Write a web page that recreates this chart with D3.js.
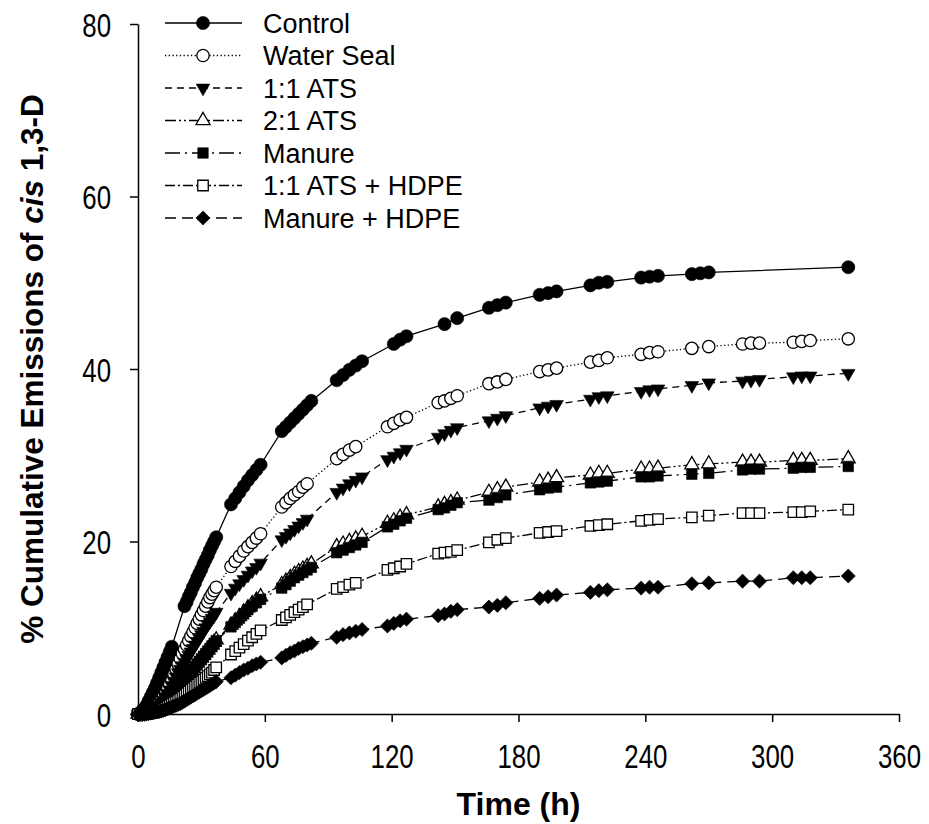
<!DOCTYPE html>
<html><head><meta charset="utf-8">
<script src="https://cdn.jsdelivr.net/npm/d3@7"></script>
<style>body{margin:0;background:#fff;} svg{display:block;}</style>
</head><body>
<svg id="chart" width="929" height="824"></svg>
<script>
// ---------- DATA ----------
const hours = [0,1,2,3,4,5,6,7,8,9,10,11,12,13,14,15,16,17,18,19,20,21,22,23,24,25,26,27,28,29,30,31,32,33,34,35,36,37,
  44,46,48,50,52,54,56,58,
  68,70,72,74,76,78,80,82,
  94,97,100,103,106,
  118,121,124,127,
  142,145,148,151,
  166,170,174, 190,194,198, 214,218,222, 238,242,246, 262,266,270, 286,290,294, 310,314,318,
  336];

const seriesNames = ["Control","Water Seal","1:1 ATS","2:1 ATS","Manure","1:1 ATS + HDPE","Manure + HDPE"];

const control = [0,0.1,0.3,0.6,1.0,1.5,2.0,2.5,3.0,3.6,4.2,4.8,5.4,6.0,6.6,7.2,7.8,
  null,null,null,null,null,
  12.5,13.0,13.6,14.1,14.7,15.2,15.8,16.3,16.8,17.4,17.9,18.4,19.0,19.5,20.0,20.5,
  24.3,25.0,25.7,26.4,27.1,27.7,28.3,28.9,
  32.8,33.3,33.8,34.3,34.8,35.3,35.8,36.3,
  38.7,39.3,39.9,40.4,40.9,
  null,42.9,43.4,43.8,
  null,45.2,null,45.9,
  47.1,47.4,47.7, 48.6,48.8,49.0, 49.7,50.0,50.1, 50.6,50.7,50.8, 51.0,51.1,51.2,
  null,null,null, null,null,null,
  51.8];

const waterSeal = [0,0,0.05,0.1,0.2,0.3,0.45,0.6,0.8,1.0,1.3,1.6,2.0,2.4,2.9,3.4,3.9,4.6,5.2,5.8,6.4,7.0,7.5,8.0,8.5,9.0,9.5,10.0,10.5,11.0,11.5,12.0,12.5,13.0,13.5,13.9,14.3,14.7,
  17.1,17.7,18.3,18.9,19.4,19.9,20.4,20.9,
  24.0,24.5,25.0,25.4,25.8,26.3,26.7,null,
  29.6,30.1,30.6,31.0,null,
  33.3,33.7,34.1,34.4,
  36.1,36.3,36.6,36.9,
  38.3,38.5,38.8, 39.7,39.9,40.1, 40.8,41.0,41.3, 41.7,41.9,42.0, 42.4,null,42.6, 42.9,43.0,43.0, 43.1,43.2,43.3,
  43.5];

const ats11 = [0,0,0,0.05,0.1,0.2,0.3,0.45,0.6,0.8,1.0,1.3,1.6,2.0,2.4,2.8,3.3,3.8,4.3,4.8,5.2,5.6,6.0,6.4,6.8,7.2,7.6,8.0,8.4,8.8,9.2,9.6,10.0,10.4,10.7,11.1,11.4,11.8,
  14.0,14.6,15.1,15.6,16.1,16.6,17.0,17.5,
  20.2,20.6,21.0,21.4,21.8,22.2,22.6,null,
  25.7,26.2,26.7,27.1,27.5,
  29.5,29.9,30.3,30.7,
  32.1,32.5,32.9,33.2,
  34.0,34.3,34.6, 35.5,35.7,35.9, 36.5,36.8,36.9, 37.4,37.6,37.7, 38.1,null,38.4, 38.6,38.7,38.8, 39.1,39.2,39.2,
  39.5];

const ats21 = [0,0,0,0,0.05,0.1,0.2,0.3,0.4,0.55,0.7,0.9,1.1,1.4,1.7,2.0,2.3,2.6,2.9,3.2,3.5,3.8,4.1,4.4,4.7,5.0,5.3,5.6,5.9,6.2,6.5,6.8,7.1,7.4,7.7,8.0,8.3,8.6,
  10.3,10.8,11.3,11.8,12.3,12.8,13.2,13.6,
  15.0,15.4,15.8,16.2,16.5,16.8,17.1,17.4,
  19.4,19.7,20.0,20.3,20.6,
  22.1,22.4,22.8,23.1,
  24.0,24.3,24.5,24.8,
  25.7,26.0,26.3, 26.9,27.1,27.4, 27.7,27.9,27.9, 28.4,28.4,28.5, 28.9,null,29.0, 29.2,29.2,29.2, 29.4,29.4,29.4,
  29.6];

const manure = [0,0,0,0,0.05,0.1,0.2,0.3,0.4,0.5,0.65,0.85,1.05,1.3,1.6,1.9,2.2,2.5,2.8,3.1,3.4,3.7,4.0,4.3,4.6,4.9,5.2,5.5,5.8,6.1,6.4,6.7,7.0,7.3,7.6,7.9,8.2,8.5,
  10.1,10.6,11.1,11.6,12.1,12.5,12.9,13.3,
  14.6,15.0,15.4,15.8,16.1,16.4,16.7,17.0,
  18.7,19.0,19.3,19.6,19.9,
  21.7,22.0,22.4,22.7,
  23.7,23.9,24.2,24.5,
  24.8,25.1,25.4, 26.0,26.2,26.3, 26.8,26.9,27.0, 27.5,27.5,27.6, 27.8,null,27.9, 28.3,28.4,28.4, 28.5,28.6,28.6,
  28.7];

const ats11Hdpe = [0,0,0,0,0,0.05,0.1,0.15,0.2,0.3,0.4,0.5,0.6,0.7,0.85,1.0,1.15,1.3,1.45,1.6,1.8,2.0,2.2,2.4,2.6,2.8,3.0,3.2,3.4,3.6,3.8,4.0,4.2,4.4,4.6,4.8,5.1,5.4,
  6.9,7.3,7.7,8.1,8.5,8.9,9.3,9.7,
  10.9,11.2,11.5,11.8,12.1,12.4,12.7,null,
  14.5,14.7,15.0,15.2,null,
  16.7,16.9,17.1,17.4,
  18.6,18.7,18.8,19.0,
  19.9,20.2,20.4, 21.0,21.1,21.2, 21.8,21.9,22.0, 22.4,22.5,22.6, 22.8,null,23.0, 23.3,23.3,23.3, 23.4,23.4,23.5,
  23.7];

const manureHdpe = [0,0,0,0,0,0.05,0.1,0.15,0.2,0.25,0.3,0.35,0.4,0.5,0.6,0.7,0.8,0.9,1.0,1.1,1.2,1.35,1.5,1.65,1.8,1.95,2.1,2.25,2.4,2.55,2.7,2.85,3.0,3.15,3.3,3.45,3.6,3.75,
  4.2,4.5,4.8,5.1,5.3,5.6,5.8,6.0,
  6.5,6.8,7.1,7.3,7.6,7.8,8.0,8.2,
  8.9,9.2,9.4,9.6,9.8,
  10.2,10.5,10.8,11.0,
  11.4,11.6,11.9,12.1,
  12.4,12.6,12.9, 13.4,13.6,13.8, 14.1,14.3,14.4, 14.6,14.7,14.7, 15.1,null,15.2, 15.4,null,15.4, 15.8,15.8,15.8,
  16.0];

const xTicks = [0,60,120,180,240,300,360];
const yTicks = [0,20,40,60,80];

// ---------- STYLE ----------
const styles = [
  {shape:"circle",   filled:true,  dash:null,            size:135},
  {shape:"circle",   filled:false, dash:"1.3,2.4",       size:120},
  {shape:"triDown",  filled:true,  dash:"7,5",           size:80},
  {shape:"triUp",    filled:false, dash:"11,3,2,3,2,3",  size:85},
  {shape:"square",   filled:true,  dash:"15,5,2,5",      size:110},
  {shape:"square",   filled:false, dash:"10,3,2,3",      size:110},
  {shape:"diamond",  filled:true,  dash:"11,6",          size:100}
];
const allValues = [control, waterSeal, ats11, ats21, manure, ats11Hdpe, manureHdpe];

const FONT = "'Liberation Sans', Arial, Helvetica, sans-serif";
const svg = d3.select("#chart");
const x = d3.scaleLinear().domain([0,360]).range([138,899]);
const y = d3.scaleLinear().domain([0,80]).range([714,24]);

function symbolPath(shape, size){
  if (shape==="circle") return d3.symbol().type(d3.symbolCircle).size(size)();
  if (shape==="square" || shape==="diamond") return d3.symbol().type(d3.symbolSquare).size(size)();
  return d3.symbol().type(d3.symbolTriangle).size(size)();
}
function symbolRot(shape){
  if (shape==="triDown") return 180;
  if (shape==="diamond") return 45;
  return 0;
}

// ---------- SERIES ----------
const line = d3.line().x(d => x(d.t)).y(d => y(d.v));
allValues.forEach((vals, i) => {
  const st = styles[i];
  const pts = hours.map((t, k) => ({t, v: vals[k]})).filter(d => d.v !== null && d.v !== undefined);
  const g = svg.append("g");
  g.append("path").datum(pts)
    .attr("d", line).attr("fill","none").attr("stroke","#000")
    .attr("stroke-width",1.3)
    .attr("stroke-dasharray", st.dash);
  g.selectAll("path.m").data(pts).join("path").attr("class","m")
    .attr("d", symbolPath(st.shape, st.size))
    .attr("transform", d => `translate(${x(d.t)},${y(d.v)}) rotate(${symbolRot(st.shape)})`)
    .attr("fill", st.filled ? "#000" : "#fff")
    .attr("stroke", "#000").attr("stroke-width", st.filled ? 0.6 : 1.3);
});

// ---------- AXES ----------
const xAxis = svg.append("g").attr("transform","translate(0,714)")
  .call(d3.axisBottom(x).tickValues(xTicks).tickSize(8).tickSizeOuter(0).tickFormat(d3.format("d")));
xAxis.select(".domain").attr("stroke-width",1.5);
xAxis.selectAll(".tick line").attr("stroke-width",1.5);
xAxis.selectAll(".tick text")
  .attr("y",54).attr("dy",0)
  .attr("transform","scale(0.76,1)")
  .attr("font-family",FONT).attr("font-size",34).attr("fill","#000");

const yAxis = svg.append("g").attr("transform","translate(138,0)")
  .call(d3.axisLeft(y).tickValues(yTicks).tickSize(8).tickSizeOuter(0).tickFormat(d3.format("d")));
yAxis.select(".domain").attr("stroke-width",1.5);
yAxis.selectAll(".tick line").attr("stroke-width",1.5);
yAxis.selectAll(".tick text")
  .attr("x",-27/0.76).attr("dy","0.36em")
  .attr("transform","scale(0.76,1)")
  .attr("font-family",FONT).attr("font-size",34).attr("fill","#000");

// Axis titles
svg.append("text").attr("x",518.5).attr("y",815).attr("text-anchor","middle")
  .attr("font-family",FONT).attr("font-size",32).attr("font-weight","bold").text("Time (h)");

const yt = svg.append("text").attr("transform","translate(43,369) rotate(-90)")
  .attr("text-anchor","middle").attr("font-family",FONT).attr("font-size",31.5).attr("font-weight","bold");
yt.append("tspan").text("% Cumulative Emissions of ");
yt.append("tspan").attr("font-style","italic").text("cis");
yt.append("tspan").text(" 1,3-D");

// ---------- LEGEND ----------
const legRows = [23, 55.5, 88, 120.5, 153, 185.5, 218];
seriesNames.forEach((name, i) => {
  const st = styles[i];
  const ly = legRows[i];
  const g = svg.append("g");
  g.append("line").attr("x1",165).attr("x2",242).attr("y1",ly).attr("y2",ly)
    .attr("stroke","#000").attr("stroke-width",1.3).attr("stroke-dasharray",st.dash);
  g.append("path").attr("d", symbolPath(st.shape, st.size))
    .attr("transform",`translate(203,${ly}) rotate(${symbolRot(st.shape)})`)
    .attr("fill", st.filled ? "#000" : "#fff")
    .attr("stroke","#000").attr("stroke-width", st.filled ? 0.6 : 1.3);
  g.append("text").attr("x",263).attr("y",ly+9.7)
    .attr("font-family",FONT).attr("font-size",27).attr("fill","#000").text(name);
});
</script>
</body></html>
